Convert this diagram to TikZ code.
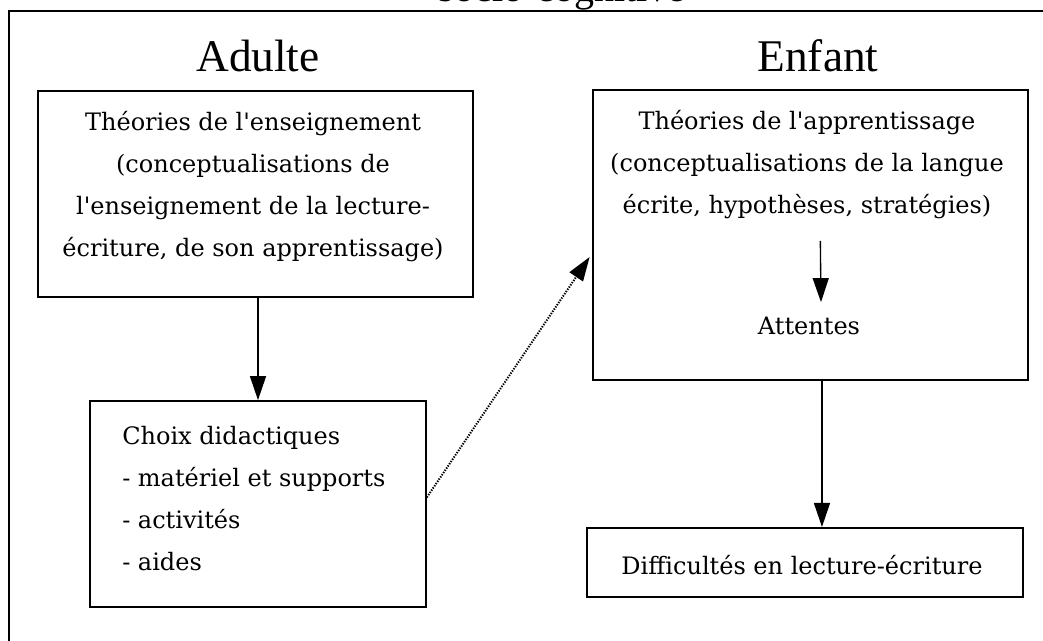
\documentclass[tikz,border=0pt]{standalone}
\usepackage{fontspec}
\setmainfont{DejaVu Serif}
\newfontfamily\titrefont{Liberation Serif}
\usetikzlibrary{arrows.meta}
\tikzset{
  cadre/.style={draw, line width=1.3pt, inner sep=0pt},
  texte/.style={inner sep=0pt, font=\fontsize{18}{31.5}\selectfont},
  titre/.style={inner sep=0pt, font=\titrefont\fontsize{34}{40}\selectfont},
  fleche/.style={-{Triangle[length=18pt,width=12pt]}, line width=1pt},
  pointille/.style={fleche, densely dotted, line width=1.5pt},
}
\begin{document}
\begin{tikzpicture}[x=0.75pt,y=-0.75pt]
\useasboundingbox (0,0) rectangle (1043,641);
% cadre general
\draw[line width=2.2pt] (9,680) |- (1080,11);
\node[titre, font=\titrefont\fontsize{30}{36}\selectfont, anchor=base] (legende) at (562,2) {socio-cognitive};
\node[titre] (adulte) at (258,56) {Adulte};
\node[titre] (enfant) at (818,56) {Enfant};
% cote adulte
\node[cadre, minimum width=326pt, minimum height=154.5pt] (ens) at (255.5,194) {};
\node[texte, align=center] (ensT) at (253,187) {Théories de l\textquotesingle enseignement\\
  (conceptualisations de\\ l\textquotesingle enseignement de la lecture-\\ écriture, de son apprentissage)};
\node[cadre, minimum width=252pt, minimum height=154.5pt] (choix) at (258,504) {};
\node[texte, align=left, anchor=west] (choixT) at (122,499) {Choix didactiques\\
  - matériel et supports\\ - activités\\ - aides};
% cote enfant
\node[cadre, minimum width=326pt, minimum height=217.5pt] (appr) at (810.5,235) {};
\node[texte, align=center] (apprT) at (807,165) {Théories de l\textquotesingle apprentissage\\
  (conceptualisations de la langue\\ écrite, hypothèses, stratégies)};
\node[texte] (att) at (809,326) {Attentes};
\node[cadre, minimum width=327pt, minimum height=52pt] (diff) at (805,562.5) {};
\node[texte] (diffT) at (802,565) {Difficultés en lecture-écriture};
% fleches
\draw[fleche] (choix.north |- ens.south) -- (choix.north);
\draw[fleche] ([xshift=10pt,yshift=-16pt]apprT.south) -- ([xshift=9pt,yshift=11pt]att.north);
\draw[fleche] ([xshift=8.6pt]appr.south) -- ([xshift=8.6pt]appr.south |- diff.north);
\draw[pointille] ([yshift=5pt]choix.east) -- ([xshift=-2pt,yshift=-16.5pt]appr.west);
\end{tikzpicture}
\end{document}
